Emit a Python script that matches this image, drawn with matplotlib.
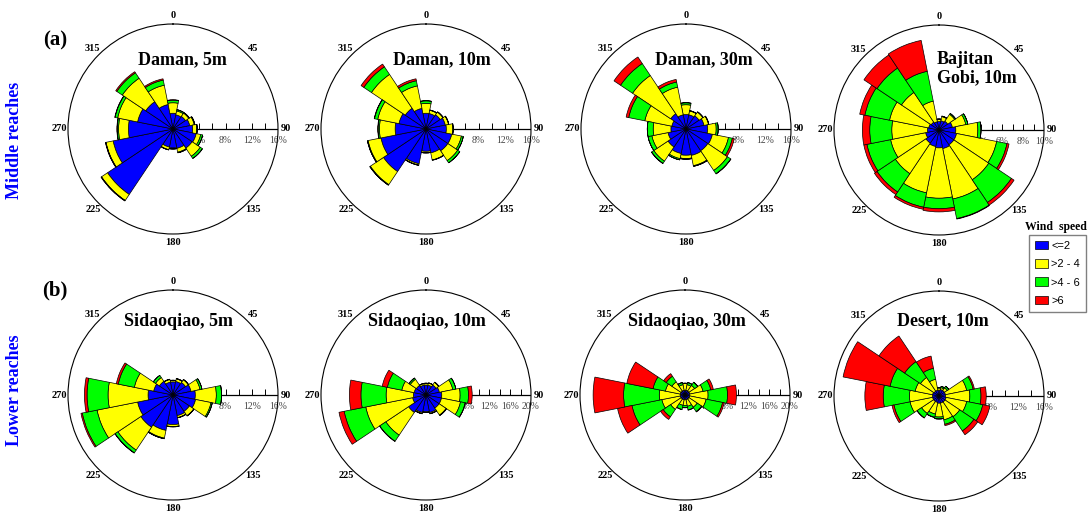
import numpy as np
import matplotlib.pyplot as plt
from matplotlib.patches import Patch

plt.rcParams['font.family'] = ['Liberation Serif', 'DejaVu Serif']

# 16 wind directions (degrees, clockwise from north)
directions = np.arange(0, 360, 22.5)
speed_labels = ['<=2', '>2 - 4', '>4 - 6', '>6']
speed_colors = ['#0000ff', '#ffff00', '#00ff00', '#ff0000']

# cumulative frequency (%) up to each speed class, rows: <=2, <=4, <=6, all
daman_5m = [
    [2.4, 2.2, 2.3, 2.6, 3.0, 3.6, 3.5, 3.0, 2.9, 2.8, 12.0, 9.3, 6.8, 5.5, 5.0, 3.8],
    [4.0, 2.8, 2.9, 3.3, 3.6, 4.3, 5.0, 3.6, 3.0, 3.2, 13.1, 10.4, 8.3, 8.6, 9.3, 6.8],
    [4.4, 3.0, 3.0, 3.4, 3.7, 4.6, 5.4, 3.7, 3.05, 3.25, 13.15, 10.45, 8.5, 9.0, 10.3, 7.6],
    [4.45, 3.0, 3.0, 3.4, 3.7, 4.6, 5.4, 3.7, 3.05, 3.25, 13.2, 10.5, 8.55, 9.05, 10.5, 7.8],
]
daman_10m = [
    [2.4, 2.4, 2.6, 3.0, 3.1, 4.0, 4.0, 3.7, 3.4, 5.4, 7.8, 7.0, 4.7, 4.2, 3.8, 3.2],
    [3.9, 2.9, 3.1, 3.5, 4.1, 5.5, 5.8, 4.8, 3.6, 5.6, 10.2, 9.0, 7.1, 7.5, 10.0, 6.7],
    [4.3, 2.95, 3.15, 3.55, 4.15, 5.8, 6.2, 4.85, 3.65, 5.65, 10.3, 9.1, 7.3, 8.0, 11.4, 7.5],
    [4.3, 2.95, 3.15, 3.55, 4.15, 5.8, 6.2, 4.85, 3.65, 5.65, 10.3, 9.1, 7.35, 8.05, 11.9, 7.8],
]
daman_30m = [
    [2.2, 2.2, 2.4, 2.8, 3.3, 4.1, 4.0, 4.1, 4.0, 3.8, 3.3, 2.8, 2.3, 2.2, 2.8, 2.2],
    [3.7, 2.8, 3.1, 3.5, 4.6, 6.6, 7.6, 5.7, 4.5, 4.6, 5.9, 5.3, 5.0, 6.4, 9.8, 6.5],
    [4.0, 2.85, 3.15, 3.55, 4.9, 7.2, 8.2, 5.8, 4.6, 4.8, 6.3, 5.9, 5.9, 8.9, 12.0, 7.3],
    [4.0, 2.85, 3.15, 3.55, 4.9, 7.5, 8.25, 5.8, 4.6, 4.8, 6.35, 5.9, 5.9, 9.3, 13.2, 7.7],
]
bajitan_10m = [
    [0.8, 0.9, 1.0, 1.3, 1.6, 1.7, 1.7, 1.8, 1.7, 1.6, 1.5, 1.3, 1.1, 1.0, 0.9, 0.8],
    [1.0, 1.3, 1.8, 2.6, 3.7, 5.6, 5.7, 6.7, 6.5, 6.1, 5.0, 4.7, 4.5, 4.8, 4.3, 2.8],
    [1.05, 1.35, 1.9, 2.8, 4.0, 6.6, 8.3, 8.6, 7.5, 7.5, 7.1, 7.0, 6.6, 7.2, 7.1, 5.7],
    [1.05, 1.35, 1.9, 2.8, 4.0, 6.8, 8.6, 8.65, 7.8, 7.7, 7.4, 7.3, 7.3, 7.7, 8.6, 8.7],
]
sidaoqiao_5m = [
    [2.0, 2.1, 2.3, 2.8, 3.4, 3.5, 3.0, 3.2, 4.5, 5.5, 5.9, 5.5, 3.8, 3.0, 2.5, 2.0],
    [2.2, 2.5, 2.8, 4.2, 6.6, 5.9, 3.8, 3.5, 4.8, 6.7, 10.1, 11.8, 9.9, 6.0, 3.2, 2.4],
    [2.25, 2.55, 2.85, 4.5, 7.4, 6.1, 3.85, 3.55, 4.85, 6.8, 10.6, 14.1, 13.1, 8.5, 3.6, 2.45],
    [2.25, 2.55, 2.85, 4.5, 7.4, 6.1, 3.85, 3.55, 4.85, 6.8, 10.65, 14.3, 13.5, 8.8, 3.6, 2.45],
]
sidaoqiao_10m = [
    [1.9, 1.9, 2.3, 2.6, 3.0, 3.0, 3.0, 3.4, 3.2, 3.4, 4.0, 2.6, 2.4, 2.3, 2.2, 1.9],
    [2.2, 2.3, 2.9, 5.2, 6.5, 6.7, 4.6, 3.6, 3.3, 3.6, 9.2, 11.7, 7.6, 4.7, 3.6, 2.2],
    [2.25, 2.35, 2.95, 5.8, 8.1, 7.6, 4.7, 3.65, 3.35, 3.65, 10.6, 15.9, 12.4, 7.5, 3.9, 2.25],
    [2.25, 2.35, 2.95, 5.8, 8.8, 7.65, 4.7, 3.65, 3.35, 3.65, 10.65, 16.9, 14.6, 8.5, 3.9, 2.25],
]
sidaoqiao_30m = [
    [0.9, 0.9, 0.9, 0.9, 0.9, 0.9, 0.9, 0.9, 0.9, 0.9, 0.9, 0.9, 0.9, 0.9, 0.9, 0.9],
    [2.2, 2.0, 2.2, 3.5, 4.4, 4.1, 2.8, 2.2, 2.0, 2.0, 3.3, 4.5, 4.9, 3.8, 3.0, 2.0],
    [2.25, 2.4, 2.9, 5.0, 8.1, 7.3, 3.8, 2.9, 2.4, 2.8, 5.0, 10.3, 11.7, 6.2, 4.3, 2.4],
    [2.25, 2.45, 2.95, 5.5, 9.8, 7.6, 3.9, 2.95, 2.45, 2.85, 5.6, 13.1, 17.5, 11.3, 4.9, 2.45],
]
desert_10m = [
    [0.9, 1.0, 1.0, 1.0, 1.0, 1.1, 1.1, 1.1, 1.1, 1.0, 1.0, 1.0, 1.0, 1.0, 0.9, 0.9],
    [1.2, 1.3, 1.5, 4.3, 4.7, 4.3, 3.8, 3.7, 3.2, 2.8, 3.2, 4.5, 4.5, 3.7, 3.4, 2.6],
    [1.3, 1.5, 1.8, 5.3, 6.4, 6.8, 6.4, 4.4, 3.5, 3.3, 4.0, 7.0, 8.5, 7.6, 6.3, 4.3],
    [1.3, 1.5, 1.8, 5.5, 7.2, 7.9, 7.1, 4.6, 3.5, 3.35, 4.05, 7.3, 11.3, 14.9, 11.0, 6.2],
]

W, H = 1088, 516
fig = plt.figure(figsize=(W / 100, H / 100), dpi=100)

# (title, data, rmax, tick step, label step, centre px, title px, title ha)
panels = [
    ('Daman, 5m', daman_5m, 16, 2, 4, (173, 129), (182, 60), 'center'),
    ('Daman, 10m', daman_10m, 16, 2, 4, (426, 129), (442, 60), 'center'),
    ('Daman, 30m', daman_30m, 16, 2, 4, (686, 129), (704, 60), 'center'),
    ('Bajitan\nGobi, 10m', bajitan_10m, 10, 1, 2, (939, 130), (937, 69), 'left'),
    ('Sidaoqiao, 5m', sidaoqiao_5m, 16, 2, 4, (173, 395), (178, 321), 'center'),
    ('Sidaoqiao, 10m', sidaoqiao_10m, 20, 2, 4, (426, 395), (427, 321), 'center'),
    ('Sidaoqiao, 30m', sidaoqiao_30m, 20, 2, 4, (685, 395), (687, 321), 'center'),
    ('Desert, 10m', desert_10m, 16, 2, 4, (939, 396), (943, 321), 'center'),
]

R = 105
theta = np.deg2rad(directions)
width = np.deg2rad(22.5)

for title, data, rmax, tstep, lstep, (cx, cy), (tx, ty), tha in panels:
    ax = fig.add_axes([(cx - R) / W, 1 - (cy + R) / H, 2 * R / W, 2 * R / H],
                      projection='polar')
    ax.set_theta_zero_location('N')
    ax.set_theta_direction(-1)
    cum = np.array(data)
    bottoms = np.vstack([np.zeros(len(directions)), cum[:-1]])
    for k in range(4):
        ax.bar(theta, cum[k] - bottoms[k], width=width, bottom=bottoms[k],
               color=speed_colors[k], edgecolor='k', linewidth=0.5, zorder=3)
    ax.set_ylim(0, rmax)
    ax.set_yticks([])
    ax.grid(False)
    ax.set_xticks(np.deg2rad(np.arange(0, 360, 45)))
    ax.set_xticklabels([str(d) for d in range(0, 360, 45)],
                       fontsize=7.5, fontweight='bold')
    ax.set_xticks(np.deg2rad(np.arange(22.5, 360, 45)), minor=True)
    ax.tick_params(axis='x', which='major', direction='in', length=6,
                   width=0.7, pad=-1)
    ax.tick_params(axis='x', which='minor', direction='in', length=4, width=0.7)
    ax.spines['polar'].set_linewidth(0.8)

    # radial scale along east
    ax.plot([np.pi / 2, np.pi / 2], [0, rmax], color='k', lw=0.9, zorder=1)
    rt = np.arange(tstep, rmax + 1e-9, tstep)
    ax.plot(np.full(len(rt), np.pi / 2), rt, ls='none', marker=2, ms=4,
            mew=0.7, color='k', zorder=1)
    for r in np.arange(lstep, rmax + 1e-9, lstep):
        ax.annotate(f'{r:g}%', (np.pi / 2, r), xytext=(0, -5),
                    textcoords='offset points', ha='center', va='top',
                    fontsize=7, color='#444444', zorder=1)

    fig.text(tx / W, 1 - ty / H, title, ha=tha, va='center', fontsize=13,
             fontweight='bold', linespacing=1.1)

fig.text(55 / W, 1 - 40 / H, '(a)', ha='center', va='center', fontsize=15,
         fontweight='bold')
fig.text(55 / W, 1 - 290 / H, '(b)', ha='center', va='center', fontsize=15,
         fontweight='bold')
fig.text(15 / W, 1 - 140 / H, 'Middle reaches', rotation=90, color='#0000ff',
         fontsize=13, fontweight='bold', ha='center', va='center')
fig.text(15 / W, 1 - 390 / H, 'Lower reaches', rotation=90, color='#0000ff',
         fontsize=13, fontweight='bold', ha='center', va='center')

handles = [Patch(facecolor=c, edgecolor='k', linewidth=0.5, label=l)
           for c, l in zip(speed_colors, speed_labels)]
fig.text(1056 / W, 1 - 227 / H, 'Wind  speed', ha='center', va='center',
         fontsize=8.5, fontweight='bold')
fig.legend(handles=handles, loc='upper left',
           bbox_to_anchor=(1029 / W, 1 - 235 / H), borderaxespad=0,
           prop={'family': 'Liberation Sans', 'size': 8}, fancybox=False,
           edgecolor='#808080', framealpha=1, handlelength=1.2,
           handleheight=0.8, handletextpad=0.3, labelspacing=0.75,
           borderpad=0.5)

fig.savefig('out.png', dpi=100)
